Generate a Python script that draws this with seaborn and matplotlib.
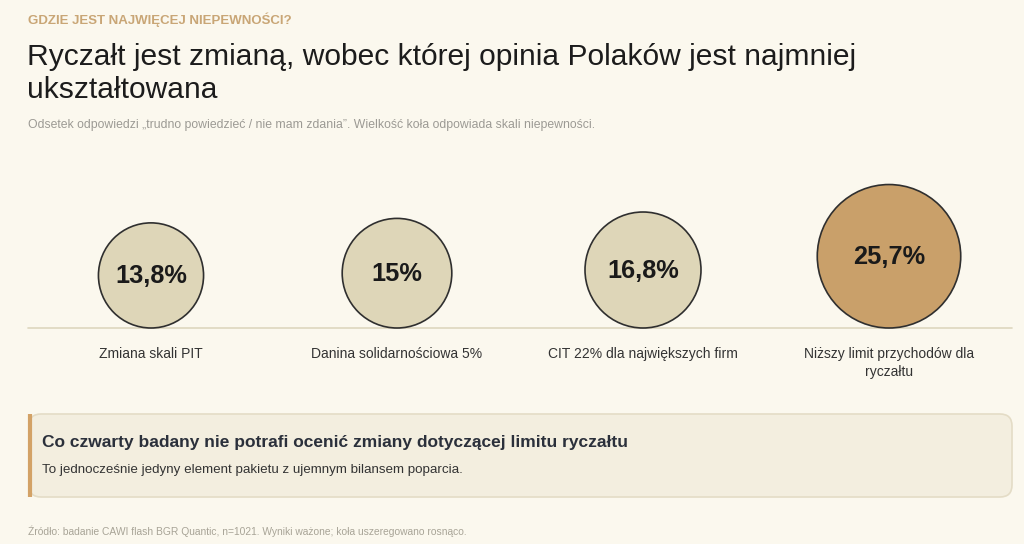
# ---------------------------------- Imports -----------------------------------------

import numpy as np
import pandas as pd
import matplotlib
matplotlib.use("Agg")
import matplotlib.pyplot as plt
from matplotlib.patches import FancyBboxPatch
import seaborn as sns

# ---------------------------------- Data -----------------------------------------

categories = ["Zmiana skali PIT", "Danina solidarnościowa 5%",
              "CIT 22% dla największych firm", "Niższy limit przychodów dla\nryczałtu"]
values = [13.8, 15.0, 16.8, 25.7]
groups = ["reszta", "reszta", "reszta", "ryczalt"]

eyebrow = "GDZIE JEST NAJWIĘCEJ NIEPEWNOŚCI?"
title_lines = ["Ryczałt jest zmianą, wobec której opinia Polaków jest najmniej",
               "ukształtowana"]
subtitle = ("Odsetek odpowiedzi „trudno powiedzieć / nie mam zdania”. "
            "Wielkość koła odpowiada skali niepewności.")
box_head = "Co czwarty badany nie potrafi ocenić zmiany dotyczącej limitu ryczałtu"
box_text = "To jednocześnie jedyny element pakietu z ujemnym bilansem poparcia."
source = "Źródło: badanie CAWI flash BGR Quantic, n=1021. Wyniki ważone; koła uszeregowano rosnąco."

# ---------------------------------- Style -----------------------------------------

BG = "#FBF8EE"
palette = {"reszta": "#DED6B8", "ryczalt": "#C9A06A"}

sns.set_theme(style="white")
plt.rcParams["font.family"] = ["Liberation Sans", "DejaVu Sans"]

W, H = 1024, 544
fig = plt.figure(figsize=(W / 100, H / 100), dpi=100, facecolor=BG)
ax = fig.add_axes([0, 0, 1, 1])
ax.set_facecolor(BG)

# ---------------------------------- Circles -----------------------------------------

left, right, base = 28, 1012, 328
col_w = (right - left) / len(values)
k = 28.3  # px of diameter per sqrt(percent) -> area proportional to value

df = pd.DataFrame({"kategoria": categories, "val": values, "grupa": groups})
df["x"] = left + (np.arange(len(df)) + 0.5) * col_w
df["d"] = k * np.sqrt(df["val"])
df["y"] = base - df["d"] / 2
sizes = (df["d"] * 0.72) ** 2

ax.plot([left, right], [base, base], color="#DDD7BF", lw=1.2, zorder=1)

sns.scatterplot(data=df, x="x", y="y", hue="grupa", palette=palette, s=sizes,
                edgecolor="#2F2F2F", linewidth=1.2, legend=False, ax=ax, zorder=3)
ax.set_xlim(0, W)
ax.set_ylim(H, 0)
ax.axis("off")

for _, r in df.iterrows():
    lab = f"{r['val']:.1f}".replace(".0", "").replace(".", ",") + "%"
    ax.text(r["x"], r["y"] + 1, lab, ha="center", va="center", fontsize=18.3,
            fontweight="bold", color="#1A1A1A", zorder=4)
    ax.text(r["x"], base + 19, r["kategoria"], ha="center", va="top", fontsize=10,
            color="#333333", linespacing=1.35)

# ---------------------------------- Header -----------------------------------------

ax.text(28, 20, eyebrow, ha="left", va="center", fontsize=9.5, fontweight="bold",
        color="#C9A676")
for i, line in enumerate(title_lines):
    ax.text(27, 57 + i * 33, line, ha="left", va="center", fontsize=21.6,
            color="#1C1C1C")
ax.text(28, 125, subtitle, ha="left", va="center", fontsize=8.8, color="#9C9A94")

# ---------------------------------- Note box -----------------------------------------

box = FancyBboxPatch((29, 414), 983, 83, boxstyle="round,pad=0,rounding_size=12",
                     facecolor="#F3EEDF", edgecolor="#E4DCC6", lw=1.2, zorder=1)
ax.add_patch(box)
ax.plot([30, 30], [414, 497], color="#D3A266", lw=3, solid_capstyle="butt", zorder=2)
ax.text(42, 442, box_head, ha="left", va="center", fontsize=12.5, fontweight="bold",
        color="#2B303B")
ax.text(42, 470, box_text, ha="left", va="center", fontsize=9.6, color="#333333")

ax.text(28, 531, source, ha="left", va="center", fontsize=7.4, color="#A8A497")

fig.savefig("out.png", dpi=100, facecolor=BG)
